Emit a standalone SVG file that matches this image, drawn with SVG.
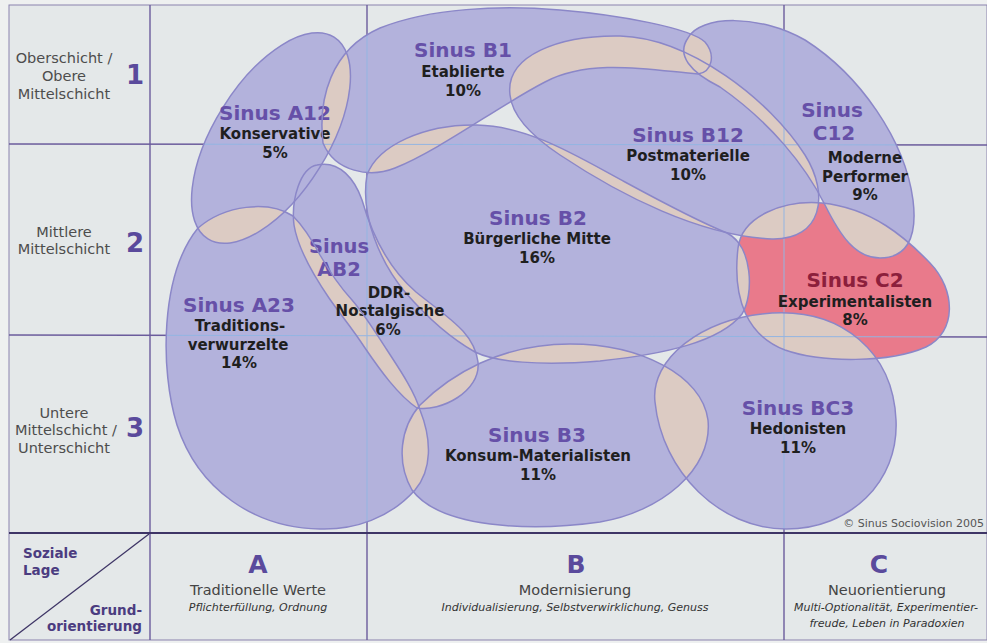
<svg xmlns="http://www.w3.org/2000/svg" xmlns:xlink="http://www.w3.org/1999/xlink" width="987" height="643" viewBox="0 0 987 643">
<style>
text{font-family:"DejaVu Sans",Verdana,sans-serif}
.blob{fill:#b3b2dc}
.c2f{fill:#e97a8b}
.ov{fill:#dccbc3}
.ol{fill:none;stroke:#8b87c8;stroke-width:1.5}
.gd{stroke:#6b5c9c;stroke-width:1.4;fill:none}
.gl{stroke:#93b5e2;stroke-width:1;fill:none}
.t{font-weight:bold;fill:#6650a8;font-size:20px;text-anchor:middle}
.s{font-weight:bold;fill:#1f1f1f;font-size:15px;text-anchor:middle}
.lft{fill:#4d4d4d;font-size:14.5px;text-anchor:middle}
.num{font-weight:bold;fill:#5a4a9c;font-size:26px;text-anchor:middle}
.ax{font-weight:bold;fill:#5a4a9c;font-size:25px;text-anchor:middle}
.axs{fill:#444;font-size:14.5px;text-anchor:middle}
.it{fill:#333;font-size:11px;font-style:italic;text-anchor:middle}
.cr{font-weight:bold;fill:#4b3c80;font-size:13.5px}
</style>
<defs>
<ellipse id="s-a12" cx="271" cy="138" rx="119" ry="57" transform="rotate(-58 271 138)"/>
<path id="s-b1" d="M323,143 C318,100 330,50 380,28 C430,8 500,5 560,10 C620,15 690,28 705,42 C716,55 712,72 698,74 C650,70 590,58 545,82 C500,105 440,150 395,168 C370,178 335,172 323,143 Z"/>
<path id="s-b12" d="M510,95 C505,55 560,35 620,36 C690,38 770,100 805,155 C830,195 822,240 772,239 C700,236 620,195 560,155 C530,135 512,115 510,95 Z"/>
<path id="s-c12" d="M688,38 C700,15 760,14 805,40 C860,75 905,140 913,200 C918,240 905,258 880,258 C855,258 840,235 825,205 C805,165 770,122 720,87 C690,72 676,55 688,38 Z"/>
<path id="s-b2" d="M367,175 C378,145 425,124 477,125 C530,126 580,158 625,182 C660,201 695,220 727,233 C753,246 754,295 742,314 C720,342 665,354 600,361 C540,366 495,362 475,352 C450,338 425,315 405,292 C380,262 360,215 367,175 Z"/>
<path id="s-ab2" d="M317,165 C340,160 355,180 362,200 C372,235 388,268 416,292 C448,318 474,332 478,362 C481,392 440,412 417,408 C398,395 380,370 365,348 C352,328 340,314 329,298 C314,276 298,250 294,225 C291,200 300,168 317,165 Z"/>
<path id="s-a23" d="M198,228 C225,205 268,200 293,216 C305,228 312,240 320,255 C332,276 341,288 352,300 C365,315 377,335 387,350 C398,367 414,390 420,410 C432,440 432,470 415,490 C390,518 355,530 320,529 C255,528 198,490 177,425 C160,370 160,275 198,228 Z"/>
<path id="s-b3" d="M412,490 C396,462 400,428 420,405 C450,375 500,344 570,344 C640,344 702,375 708,420 C713,470 660,512 600,522 C530,532 440,528 412,490 Z"/>
<path id="s-bc3" d="M655,402 C650,360 700,318 772,313 C842,309 893,352 896,420 C899,482 850,529 786,529 C720,529 662,472 655,402 Z"/>
<path id="s-c2" d="M738,248 C742,215 785,200 822,203 C872,208 906,238 930,263 C956,290 957,332 926,347 C890,363 822,363 785,350 C748,336 732,300 738,248 Z"/>
<clipPath id="c-a12"><use xlink:href="#s-a12"/></clipPath>
<clipPath id="c-b1"><use xlink:href="#s-b1"/></clipPath>
<clipPath id="c-b12"><use xlink:href="#s-b12"/></clipPath>
<clipPath id="c-c12"><use xlink:href="#s-c12"/></clipPath>
<clipPath id="c-b2"><use xlink:href="#s-b2"/></clipPath>
<clipPath id="c-ab2"><use xlink:href="#s-ab2"/></clipPath>
<clipPath id="c-a23"><use xlink:href="#s-a23"/></clipPath>
<clipPath id="c-b3"><use xlink:href="#s-b3"/></clipPath>
<clipPath id="c-c2"><use xlink:href="#s-c2"/></clipPath>
<clipPath id="c-all">
<use xlink:href="#s-a12"/><use xlink:href="#s-b1"/><use xlink:href="#s-b12"/><use xlink:href="#s-c12"/><use xlink:href="#s-b2"/><use xlink:href="#s-ab2"/><use xlink:href="#s-a23"/><use xlink:href="#s-b3"/><use xlink:href="#s-bc3"/><use xlink:href="#s-c2"/>
</clipPath>
</defs>

<rect x="0" y="0" width="987" height="643" fill="#eef0f0"/>
<rect x="9" y="5" width="978" height="635" fill="#e4e8e9" stroke="#8a82ad" stroke-width="1"/>

<g id="grid">
<line class="gd" x1="150" y1="5" x2="150" y2="640"/>
<line class="gd" x1="367" y1="5" x2="367" y2="640"/>
<line class="gd" x1="784" y1="5" x2="784" y2="640"/>
<line class="gd" x1="9" y1="144" x2="987" y2="145"/>
<line class="gd" x1="9" y1="335" x2="987" y2="337"/>
<line x1="9" y1="533" x2="987" y2="533" stroke="#3e3566" stroke-width="2"/>
<line x1="10" y1="640" x2="149" y2="534" stroke="#3e3566" stroke-width="1.3"/>
</g>

<g id="fills">
<use class="blob" xlink:href="#s-a12"/>
<use class="blob" xlink:href="#s-b1"/>
<use class="blob" xlink:href="#s-b12"/>
<use class="blob" xlink:href="#s-c12"/>
<use class="blob" xlink:href="#s-b2"/>
<use class="blob" xlink:href="#s-ab2"/>
<use class="blob" xlink:href="#s-a23"/>
<use class="blob" xlink:href="#s-b3"/>
<use class="blob" xlink:href="#s-bc3"/>
<use class="c2f" xlink:href="#s-c2"/>
</g>

<g id="overlaps">
<use class="ov" xlink:href="#s-b1" clip-path="url(#c-a12)"/>
<use class="ov" xlink:href="#s-a23" clip-path="url(#c-a12)"/>
<use class="ov" xlink:href="#s-b2" clip-path="url(#c-b1)"/>
<use class="ov" xlink:href="#s-b12" clip-path="url(#c-b1)"/>
<use class="ov" xlink:href="#s-c12" clip-path="url(#c-b1)"/>
<use class="ov" xlink:href="#s-b2" clip-path="url(#c-b12)"/>
<use class="ov" xlink:href="#s-c12" clip-path="url(#c-b12)"/>
<use class="ov" xlink:href="#s-c2" clip-path="url(#c-b12)"/>
<use class="ov" xlink:href="#s-c2" clip-path="url(#c-c12)"/>
<use class="ov" xlink:href="#s-ab2" clip-path="url(#c-b2)"/>
<use class="ov" xlink:href="#s-c2" clip-path="url(#c-b2)"/>
<use class="ov" xlink:href="#s-b3" clip-path="url(#c-b2)"/>
<use class="ov" xlink:href="#s-bc3" clip-path="url(#c-b2)"/>
<use class="ov" xlink:href="#s-a23" clip-path="url(#c-ab2)"/>
<use class="ov" xlink:href="#s-b3" clip-path="url(#c-ab2)"/>
<use class="ov" xlink:href="#s-b3" clip-path="url(#c-a23)"/>
<use class="ov" xlink:href="#s-bc3" clip-path="url(#c-b3)"/>
<use class="ov" xlink:href="#s-bc3" clip-path="url(#c-c2)"/>
</g>

<g id="grid-inner" clip-path="url(#c-all)">
<line class="gl" x1="367" y1="5" x2="367" y2="533"/>
<line class="gl" x1="784" y1="5" x2="784" y2="533"/>
<line class="gl" x1="9" y1="144" x2="987" y2="145"/>
<line class="gl" x1="9" y1="335" x2="987" y2="337"/>
</g>

<g id="connectors"></g>

<g id="sinus-a12">
<use class="ol" xlink:href="#s-a12"/>
<text class="t" x="275" y="120">Sinus A12</text>
<text class="s" x="275" y="139">Konservative</text>
<text class="s" x="275" y="158">5%</text>
</g>
<g id="sinus-b1">
<use class="ol" xlink:href="#s-b1"/>
<text class="t" x="463" y="57">Sinus B1</text>
<text class="s" x="463" y="77">Etablierte</text>
<text class="s" x="463" y="96">10%</text>
</g>
<g id="sinus-b12">
<use class="ol" xlink:href="#s-b12"/>
<text class="t" x="688" y="142">Sinus B12</text>
<text class="s" x="688" y="161">Postmaterielle</text>
<text class="s" x="688" y="180">10%</text>
</g>
<g id="sinus-c12">
<use class="ol" xlink:href="#s-c12"/>
<text class="t" x="832" y="117">Sinus</text>
<text class="t" x="834" y="140">C12</text>
<text class="s" x="865" y="163">Moderne</text>
<text class="s" x="865" y="182">Performer</text>
<text class="s" x="865" y="200">9%</text>
</g>
<g id="sinus-b2">
<use class="ol" xlink:href="#s-b2"/>
<text class="t" x="538" y="225">Sinus B2</text>
<text class="s" x="537" y="244">Bürgerliche Mitte</text>
<text class="s" x="537" y="263">16%</text>
</g>
<g id="sinus-ab2">
<use class="ol" xlink:href="#s-ab2"/>
<text class="t" x="339" y="253" style="font-size:19.5px">Sinus</text>
<text class="t" x="339" y="276" style="font-size:19.5px">AB2</text>
<text class="s" x="389" y="298">DDR-</text>
<text class="s" x="390" y="316">Nostalgische</text>
<text class="s" x="388" y="335">6%</text>
</g>
<g id="sinus-a23">
<use class="ol" xlink:href="#s-a23"/>
<text class="t" x="239" y="312">Sinus A23</text>
<text class="s" x="240" y="331">Traditions-</text>
<text class="s" x="238" y="350">verwurzelte</text>
<text class="s" x="239" y="368">14%</text>
</g>
<g id="sinus-b3">
<use class="ol" xlink:href="#s-b3"/>
<text class="t" x="537" y="442">Sinus B3</text>
<text class="s" x="538" y="461">Konsum-Materialisten</text>
<text class="s" x="538" y="480">11%</text>
</g>
<g id="sinus-bc3">
<use class="ol" xlink:href="#s-bc3"/>
<text class="t" x="798" y="415">Sinus BC3</text>
<text class="s" x="798" y="434">Hedonisten</text>
<text class="s" x="798" y="453">11%</text>
</g>
<g id="sinus-c2">
<use class="ol" xlink:href="#s-c2"/>
<text class="t" x="855" y="287" style="fill:#8c1f3c">Sinus C2</text>
<text class="s" x="855" y="307">Experimentalisten</text>
<text class="s" x="855" y="325">8%</text>
</g>

<g id="row-labels">
<text class="lft" x="64" y="63">Oberschicht /</text>
<text class="lft" x="64" y="81">Obere</text>
<text class="lft" x="64" y="99">Mittelschicht</text>
<text class="num" x="135" y="84">1</text>
<text class="lft" x="64" y="237">Mittlere</text>
<text class="lft" x="64" y="254">Mittelschicht</text>
<text class="num" x="135" y="252">2</text>
<text class="lft" x="64" y="418">Untere</text>
<text class="lft" x="66" y="435">Mittelschicht /</text>
<text class="lft" x="64" y="453">Unterschicht</text>
<text class="num" x="135" y="437">3</text>
</g>

<g id="corner">
<text class="cr" x="23" y="558">Soziale</text>
<text class="cr" x="23" y="575">Lage</text>
<text class="cr" x="142" y="615" text-anchor="end">Grund-</text>
<text class="cr" x="142" y="631" text-anchor="end">orientierung</text>
</g>

<g id="col-a">
<text class="ax" x="258" y="573">A</text>
<text class="axs" x="258" y="595">Traditionelle Werte</text>
<text class="it" x="258" y="611">Pflichterfüllung, Ordnung</text>
</g>
<g id="col-b">
<text class="ax" x="576" y="573">B</text>
<text class="axs" x="575" y="595">Modernisierung</text>
<text class="it" x="575" y="611">Individualisierung, Selbstverwirklichung, Genuss</text>
</g>
<g id="col-c">
<text class="ax" x="879" y="573">C</text>
<text class="axs" x="887" y="595">Neuorientierung</text>
<text class="it" x="886" y="611">Multi-Optionalität, Experimentier-</text>
<text class="it" x="887" y="627">freude, Leben in Paradoxien</text>
</g>

<text x="984" y="527" text-anchor="end" font-size="11" fill="#555" style="font-family:'DejaVu Sans',sans-serif">© Sinus Sociovision 2005</text>
</svg>
